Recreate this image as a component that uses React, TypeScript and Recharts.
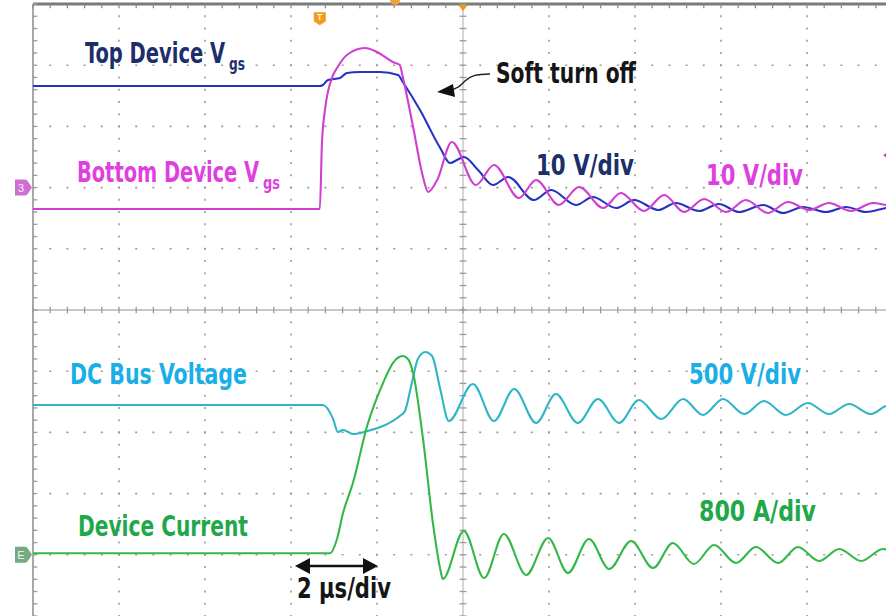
import React, { useLayoutEffect, useRef, useState } from 'react';
import { LineChart, Line, XAxis, YAxis, ReferenceLine, ReferenceDot } from 'recharts';

// time in µs (2 µs/div, centre = 0), values in physical units
const topDeviceVgs: [number, number][] = [
  [-10, 16.6], [-3.33, 16.6], [-3.26, 16.77], [-3.14, 17.58], [-2.86, 17.91], [-2.7, 18.73], [-2.4, 18.89],
  [-1.93, 18.89], [-1.51, 18.4], [-1.4, 17.26], [-1.0, 12.68], [-0.53, 6.47], [-0.3, 4.02], [-0.14, 4.51],
  [0.02, 5.0], [0.35, 2.88], [0.7, 0.42], [1.05, 1.73], [1.65, -2.03], [2.05, -0.39], [2.63, -2.84],
  [3.02, -1.54], [3.56, -3.33], [3.98, -2.03], [4.54, -3.66], [4.95, -2.52], [5.49, -3.82], [5.95, -2.68],
  [6.42, -3.99], [6.98, -2.84], [7.44, -4.15], [7.91, -3.17], [8.44, -3.99], [8.91, -3.17], [9.37, -3.99],
  [9.84, -3.33], [10.0, -3.17],
];

const bottomDeviceVgs: [number, number][] = [
  [-10, -3.5], [-3.33, -3.5], [-3.28, 7.29], [-3.21, 12.68], [-3.02, 18.4], [-2.93, 19.54], [-2.7, 21.67],
  [-2.28, 22.81], [-2.0, 22.16], [-1.63, 20.52], [-1.47, 20.03], [-1.4, 18.07], [-1.16, 9.9], [-0.93, 1.73],
  [-0.81, -0.72], [-0.6, 1.24], [-0.26, 7.45], [0.3, 0.42], [0.72, 3.69], [1.3, -1.7], [1.7, 1.24],
  [2.23, -2.84], [2.7, 0.1], [3.26, -3.33], [3.67, -0.88], [4.21, -3.82], [4.68, -1.21], [5.14, -3.99],
  [5.61, -1.86], [6.12, -3.99], [6.58, -2.03], [7.09, -4.15], [7.56, -2.35], [8.05, -3.66], [8.51, -2.52],
  [9.02, -3.82], [9.54, -2.52], [9.84, -2.84], [10.0, -3.01],
];

const dcBusVoltage: [number, number][] = [
  [-10, 1224], [-3.26, 1224], [-3.02, 1109], [-2.91, 1003], [-2.79, 1020], [-2.67, 1003], [-2.56, 987],
  [-2.23, 1011], [-1.86, 1052], [-1.47, 1134], [-1.35, 1175], [-1.19, 1404], [-1.05, 1600], [-0.88, 1657],
  [-0.72, 1624], [-0.53, 1355], [-0.33, 1093], [0.23, 1395], [0.72, 1093], [1.19, 1355], [1.7, 1077],
  [2.16, 1314], [2.67, 1077], [3.14, 1273], [3.63, 1077], [4.09, 1265], [4.61, 1109], [5.12, 1273],
  [5.58, 1142], [6.05, 1273], [6.54, 1150], [7.0, 1257], [7.51, 1142], [8.02, 1240], [8.51, 1150],
  [8.98, 1232], [9.49, 1150], [9.84, 1216], [10, 1224],
];

const deviceCurrent: [number, number][] = [
  [-10, 20], [-3.09, 20], [-2.93, 207], [-2.79, 546], [-2.56, 938], [-2.23, 1683], [-1.86, 2245],
  [-1.63, 2507], [-1.4, 2598], [-1.28, 2559], [-1.16, 2376], [-0.93, 1514], [-0.7, 416], [-0.53, -186],
  [-0.47, -316], [0.02, 311], [0.49, -303], [0.95, 272], [1.47, -264], [1.98, 220], [2.44, -238],
  [2.93, 207], [3.4, -186], [3.91, 180], [4.42, -173], [4.88, 154], [5.37, -120], [5.84, 128],
  [6.35, -107], [6.81, 102], [7.33, -107], [7.79, 102], [8.28, -81], [8.75, 76], [9.26, -81],
  [9.77, 76], [10, 37],
];

// graticule, expressed on the 10 V/div Vgs scale (domain -70 .. 30 V) and 2 µs/div time scale
const majorTimeTicks = [-8, -6, -4, -2, 2, 4, 6, 8];
const majorVgsTicks = [-60, -50, -40, -30, -10, 0, 10, 20];
const minorTimeTicks: number[] = [];
for (let i = 0; i <= 50; i++) minorTimeTicks.push(-10 + i * 0.4);
const minorVgsTicks: number[] = [];
for (let i = 0; i <= 50; i++) minorVgsTicks.push(-70 + i * 2);

const toRows = (pairs: [number, number][]) => pairs.map(([t, v]) => ({ t, v }));

const FONT = "'Liberation Sans Narrow', 'DejaVu Sans Condensed', 'Roboto Condensed', Roboto, sans-serif";

const ChannelMarker = (props: any) => {
  const { cx, cy, fill, label } = props;
  return (
    <g>
      <path d={`M${cx - 18},${cy - 8} h10 q2,0 3,2 l4,6 l-4,6 q-1,2 -3,2 h-10 z`} fill={fill} opacity={0.85} />
      <text x={cx - 12} y={cy + 4} fontSize={11} fill="#f4f4f4" textAnchor="middle" fontFamily="sans-serif">{label}</text>
    </g>
  );
};

const TriggerMarker = (props: any) => {
  const { cx, cy } = props;
  return (
    <g>
      <path d={`M${cx - 6},${cy - 7} h12 v9 l-6,4 l-6,-4 z`} fill="#f29a1f" />
      <text x={cx} y={cy + 1} fontSize={9} fill="#fff6d8" textAnchor="middle" fontFamily="sans-serif" fontWeight={700}>T</text>
    </g>
  );
};

const TopTriangle = (props: any) => <path d={`M${props.cx - 5},${props.cy + 1} h10 l-5,6 z`} fill="#f29a1f" />;
const TopSemi = (props: any) => <path d={`M${props.cx - 5},${props.cy - 4} a5,5 0 0 0 10,0 z`} fill="#f2a23a" />;
const RightMarker = (props: any) => <path d={`M${props.cx},${props.cy} l7,-5 v10 z`} fill="#c23ac8" />;

// Text squeezed horizontally to a target width (condensed look like the original)
const Label = ({ x, y, size, len, color, children }: any) => {
  const ref = useRef<SVGTextElement>(null);
  const [s, setS] = useState(1);
  useLayoutEffect(() => {
    const measure = () => {
      if (ref.current) {
        const w = ref.current.getComputedTextLength();
        if (w > 0) setS(len / w);
      }
    };
    measure();
    if ((document as any).fonts && (document as any).fonts.ready) {
      (document as any).fonts.ready.then(measure);
    }
  }, [len]);
  return (
    <text ref={ref} transform={`translate(${x},${y}) scale(${s},1)`} fontSize={size} fill={color}
      fontFamily={FONT} fontWeight={700}>{children}</text>
  );
};

export default function App() {
  const gridStroke = '#9a9a9a';
  return (
    <div style={{ position: 'absolute', left: 0, top: 0, width: 886, height: 616, overflow: 'hidden', background: '#ffffff' }}>
      <LineChart width={900} height={630} margin={{ top: 4, right: 7, bottom: 14, left: 33 }}>
        <XAxis dataKey="t" type="number" domain={[-10, 10]} allowDataOverflow hide />
        <YAxis yAxisId="vgs" type="number" domain={[-70, 30]} allowDataOverflow hide />
        <YAxis yAxisId="bus" type="number" domain={[-500, 4500]} allowDataOverflow hide />
        <YAxis yAxisId="cur" type="number" domain={[-800, 7200]} allowDataOverflow hide />

        {majorTimeTicks.map((t) => (
          <ReferenceLine key={`vx${t}`} x={t} yAxisId="vgs" stroke={gridStroke} strokeWidth={1.6}
            strokeDasharray="2 10.24" strokeDashoffset={1} />
        ))}
        {majorVgsTicks.map((d) => (
          <ReferenceLine key={`hy${d}`} y={d} yAxisId="vgs" stroke={gridStroke} strokeWidth={1.6}
            strokeDasharray="2 15.2" strokeDashoffset={1} />
        ))}

        <ReferenceLine x={0} yAxisId="vgs" stroke="#c4c4c4" strokeWidth={1.4} />
        <ReferenceLine y={-20} yAxisId="vgs" stroke="#b4b4b4" strokeWidth={1.6} />
        <ReferenceLine x={-10} yAxisId="vgs" stroke="#a8a8a8" strokeWidth={2} />
        <ReferenceLine y={30} yAxisId="vgs" stroke="#7a7a7a" strokeWidth={3} />

        {minorTimeTicks.map((t) => (
          <ReferenceLine key={`ct${t}`} yAxisId="vgs" stroke="#9a9a9a" strokeWidth={1.3}
            segment={[{ x: t, y: -20.55 }, { x: t, y: -19.45 }]} />
        ))}
        {minorTimeTicks.map((t) => (
          <ReferenceLine key={`tt${t}`} yAxisId="vgs" stroke="#8a8a8a" strokeWidth={1.3}
            segment={[{ x: t, y: 30 }, { x: t, y: 29.3 }]} />
        ))}
        {minorVgsTicks.map((d) => (
          <ReferenceLine key={`cd${d}`} yAxisId="vgs" stroke="#9a9a9a" strokeWidth={1.3}
            segment={[{ x: -0.08, y: d }, { x: 0.08, y: d }]} />
        ))}
        {minorVgsTicks.map((d) => (
          <ReferenceLine key={`ld${d}`} yAxisId="vgs" stroke="#9a9a9a" strokeWidth={1.3}
            segment={[{ x: -10, y: d }, { x: -9.9, y: d }]} />
        ))}

        <Line data={toRows(dcBusVoltage)} dataKey="v" yAxisId="bus" type="monotone" dot={false}
          stroke="#2fb6c6" strokeWidth={2.1} isAnimationActive={false} />
        <Line data={toRows(deviceCurrent)} dataKey="v" yAxisId="cur" type="monotone" dot={false}
          stroke="#33b847" strokeWidth={2.1} isAnimationActive={false} />
        <Line data={toRows(topDeviceVgs)} dataKey="v" yAxisId="vgs" type="monotone" dot={false}
          stroke="#2633c2" strokeWidth={2.1} isAnimationActive={false} />
        <Line data={toRows(bottomDeviceVgs)} dataKey="v" yAxisId="vgs" type="monotone" dot={false}
          stroke="#d03ed2" strokeWidth={2.1} isAnimationActive={false} />

        <ReferenceDot x={-10} y={0} yAxisId="vgs" ifOverflow="visible"
          shape={(p: any) => <ChannelMarker {...p} fill="#c455c8" label="3" />} />
        <ReferenceDot x={-10} y={0} yAxisId="cur" ifOverflow="visible"
          shape={(p: any) => <ChannelMarker {...p} fill="#5c9e68" label="E" />} />
        <ReferenceDot x={-3.33} y={27.5} yAxisId="vgs" ifOverflow="visible" shape={(p: any) => <TriggerMarker {...p} />} />
        <ReferenceDot x={0} y={30} yAxisId="vgs" ifOverflow="visible" shape={(p: any) => <TopTriangle {...p} />} />
        <ReferenceDot x={-1.58} y={30} yAxisId="vgs" ifOverflow="visible" shape={(p: any) => <TopSemi {...p} />} />
        <ReferenceDot x={9.77} y={5.3} yAxisId="vgs" ifOverflow="visible" shape={(p: any) => <RightMarker {...p} />} />
      </LineChart>

      <svg width={886} height={616} style={{ position: 'absolute', left: 0, top: 0, pointerEvents: 'none' }}>
        <Label x={85} y={63} size={28} len={140} color="#1c2f6b">Top Device V</Label>
        <Label x={229} y={70} size={18} len={16} color="#1c2f6b">gs</Label>

        <Label x={77} y={182} size={28} len={182} color="#e03fe0">Bottom Device V</Label>
        <Label x={263} y={189} size={18} len={17} color="#e03fe0">gs</Label>

        <Label x={496} y={83} size={28} len={140} color="#151515">Soft turn off</Label>
        <path d="M490,74 C476,74 470,76 465,81 C460,86 457,89 450,90" fill="none" stroke="#222" strokeWidth={1.5} />
        <path d="M437,92 L453,84 L455,97 Z" fill="#111" />

        <Label x={536} y={175} size={28} len={98} color="#1c2f6b">10 V/div</Label>
        <Label x={706} y={185} size={28} len={97} color="#e03fe0">10 V/div</Label>

        <Label x={70} y={384} size={28} len={177} color="#1aaee8">DC Bus Voltage</Label>
        <Label x={689} y={384} size={28} len={112} color="#1aaee8">500 V/div</Label>

        <Label x={78} y={536} size={28} len={170} color="#1fa84a">Device Current</Label>
        <Label x={699} y={521} size={28} len={117} color="#1fa84a">800 A/div</Label>

        <line x1={305} y1={566} x2={368} y2={566} stroke="#111" strokeWidth={2.5} />
        <path d="M295,566 L310,558 L310,574 Z" fill="#111" />
        <path d="M378,566 L363,558 L363,574 Z" fill="#111" />
        <Label x={297} y={598} size={28} len={94} color="#151515">2 µs/div</Label>
      </svg>
    </div>
  );
}
